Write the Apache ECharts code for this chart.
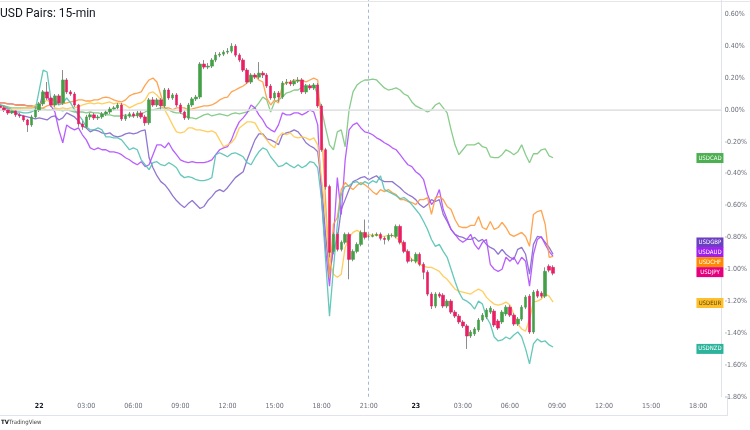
<!DOCTYPE html>
<html>
<head>
<meta charset="utf-8">
<script src="https://cdn.jsdelivr.net/npm/echarts@6/dist/echarts.min.js"></script>
<style>
  html, body { margin: 0; padding: 0; background: #ffffff; }
  #chart { width: 750px; height: 430px; }
</style>
</head>
<body>
<div id="chart"></div>
<script>
// ---------- time slots (15-min bars) ----------
const startDay = 21;            // first bar: day 21, 21:30
const startMinute = 21 * 60 + 30;
const stepMinutes = 15;
const slotCount = 185;          // up to 23 19:30

// ---------- % change series (15-min closes) ----------
const usdnzd = [0.031,0.025,0.013,0,-0.013,-0.013,-0.019,-0.019,-0.013,0,
0.125,0.25,0.238,0.063,0.063,0.031,0.044,0.075,0.044,0,
-0.031,-0.063,-0.106,-0.125,-0.125,-0.113,-0.125,-0.169,-0.169,-0.175,
-0.175,-0.188,-0.219,-0.25,-0.238,-0.25,-0.313,-0.344,-0.375,-0.331,
-0.325,-0.344,-0.35,-0.331,-0.344,-0.363,-0.406,-0.425,-0.419,-0.425,
-0.438,-0.444,-0.444,-0.438,-0.425,-0.281,-0.269,-0.281,-0.294,-0.275,
-0.269,-0.281,-0.294,-0.331,-0.344,-0.3,-0.263,-0.238,-0.25,-0.294,
-0.325,-0.356,-0.35,-0.331,-0.35,-0.363,-0.344,-0.363,-0.35,-0.325,
-0.331,-0.363,-0.563,-0.938,-1.294,-1.0,-0.719,-0.531,-0.481,-0.475,
-0.456,-0.45,-0.469,-0.45,-0.463,-0.444,-0.456,-0.413,-0.5,-0.513,
-0.525,-0.538,-0.556,-0.55,-0.569,-0.594,-0.625,-0.656,-0.7,-0.75,
-0.813,-0.856,-0.844,-0.888,-0.925,-1.0,-1.075,-1.144,-1.188,-1.2,
-1.219,-1.25,-1.2,-1.219,-1.3,-1.344,-1.425,-1.45,-1.444,-1.425,
-1.438,-1.413,-1.394,-1.425,-1.5,-1.594,-1.469,-1.438,-1.456,-1.45,
-1.475,-1.488];

const usdgbp = [0.031,0.019,0.006,-0.006,-0.019,-0.031,-0.038,-0.044,-0.05,-0.056,
-0.05,-0.056,-0.063,-0.044,-0.038,-0.063,-0.05,-0.019,-0.031,-0.044,
-0.069,-0.1,-0.113,-0.138,-0.125,-0.131,-0.144,-0.15,-0.144,-0.163,
-0.169,-0.163,-0.15,-0.144,-0.15,-0.144,-0.131,-0.125,-0.3,-0.363,
-0.413,-0.45,-0.469,-0.5,-0.538,-0.569,-0.594,-0.613,-0.588,-0.569,
-0.594,-0.619,-0.606,-0.569,-0.544,-0.513,-0.5,-0.513,-0.488,-0.456,
-0.425,-0.406,-0.388,-0.313,-0.25,-0.188,-0.15,-0.15,-0.181,-0.188,
-0.2,-0.219,-0.156,-0.144,-0.138,-0.125,-0.138,-0.169,-0.206,-0.225,
-0.238,-0.263,-0.469,-0.781,-1.031,-0.875,-0.813,-0.625,-0.563,-0.5,
-0.45,-0.438,-0.425,-0.419,-0.438,-0.425,-0.413,-0.438,-0.45,-0.45,
-0.45,-0.469,-0.488,-0.513,-0.531,-0.544,-0.563,-0.594,-0.613,-0.594,
-0.563,-0.575,-0.563,-0.656,-0.7,-0.75,-0.781,-0.794,-0.8,-0.813,
-0.813,-0.8,-0.825,-0.813,-0.844,-0.863,-0.875,-0.906,-0.875,-0.906,
-0.925,-0.938,-0.875,-0.863,-0.906,-1.031,-0.844,-0.794,-0.8,-0.831,
-0.863,-0.906];

const usdaud = [0.044,0.044,0.038,0.038,0.031,0.031,0.031,0.025,0.025,0.019,
0.013,0.113,0.094,0.025,-0.013,-0.125,-0.206,-0.094,-0.113,-0.125,
-0.113,-0.156,-0.188,-0.238,-0.25,-0.238,-0.25,-0.25,-0.263,-0.263,
-0.269,-0.281,-0.3,-0.313,-0.331,-0.344,-0.325,-0.356,-0.344,-0.281,
-0.219,-0.219,-0.238,-0.206,-0.25,-0.281,-0.313,-0.325,-0.331,-0.325,
-0.331,-0.331,-0.331,-0.325,-0.313,-0.281,-0.25,-0.238,-0.231,-0.188,
-0.125,-0.075,-0.05,-0.019,0.031,0.013,-0.031,-0.063,-0.106,-0.125,
-0.138,-0.094,-0.019,-0.031,-0.031,-0.019,-0.019,-0.031,-0.019,0,
-0.013,-0.094,-0.563,-0.875,-1.106,-0.813,-0.425,-0.656,-0.313,-0.125,
-0.094,-0.081,-0.113,-0.138,-0.144,-0.156,-0.175,-0.188,-0.206,-0.219,
-0.238,-0.25,-0.281,-0.313,-0.344,-0.356,-0.388,-0.406,-0.438,-0.531,
-0.594,-0.563,-0.5,-0.625,-0.688,-0.75,-0.781,-0.813,-0.831,-0.813,
-0.781,-0.844,-0.875,-0.831,-0.813,-0.969,-1.0,-1.013,-1.0,-0.925,
-0.95,-0.925,-0.969,-0.925,-0.95,-1.106,-0.906,-0.813,-0.794,-0.844,
-0.888,-0.919];

const usdchf = [0.044,0.044,0.038,0.038,0.031,0.031,0.031,0.025,0.025,0.019,
0.013,0.013,0.025,0.031,0.038,0.038,0.038,0.044,0.05,0.056,
0.063,0.063,0.056,0.056,0.063,0.063,0.075,0.081,0.075,0.063,
0.056,0.05,0.063,0.088,0.1,0.106,0.113,0.156,0.188,0.2,
0.175,0.094,0.013,0.013,0,0.013,0.013,0.013,0,0.006,
0.013,0.019,0.025,0.025,0.031,0.044,0.063,0.075,0.081,0.113,
0.125,0.138,0.15,0.169,0.2,0.219,0.188,0.175,0.075,0.031,
0.063,0.044,0.156,0.169,0.175,0.188,0.181,0.188,0.175,0.188,
0.2,0.188,-0.125,-0.563,-1.05,-0.719,-0.675,-0.5,-0.456,-0.481,
-0.5,-0.475,-0.456,-0.469,-0.488,-0.513,-0.531,-0.5,-0.513,-0.5,
-0.519,-0.531,-0.563,-0.563,-0.575,-0.581,-0.594,-0.563,-0.563,-0.55,
-0.656,-0.55,-0.544,-0.563,-0.606,-0.625,-0.688,-0.731,-0.738,-0.738,
-0.725,-0.725,-0.669,-0.738,-0.75,-0.7,-0.75,-0.738,-0.706,-0.738,
-0.781,-0.794,-0.781,-0.769,-0.794,-0.856,-0.656,-0.638,-0.631,-0.719,
-0.925,-0.919];

const usdeur = [0.025,0.019,0.013,0.006,0.006,0.006,0.013,0.013,0.013,0.031,
0.038,0.044,0.063,0.044,0.013,0.006,0.013,0.006,0.013,0.013,
0.019,0.031,0.038,0.044,0.038,0.044,0.038,0.044,0.05,0.038,
0.044,0.038,0.031,0.013,0.025,0.038,0.044,0.063,0.106,0.113,
0.094,0.063,0,-0.044,-0.094,-0.138,-0.144,-0.138,-0.113,-0.113,
-0.125,-0.125,-0.131,-0.138,-0.131,-0.144,-0.188,-0.231,-0.219,-0.206,
-0.175,-0.113,-0.094,-0.075,-0.075,-0.081,-0.125,-0.156,-0.188,-0.219,
-0.238,-0.169,-0.144,-0.156,-0.144,-0.169,-0.175,-0.169,-0.175,-0.188,
-0.175,-0.219,-0.438,-0.656,-0.938,-1.031,-1.05,-1.031,-0.863,-0.8,
-0.769,-0.756,-0.769,-0.794,-0.781,-0.788,-0.781,-0.794,-0.794,-0.788,
-0.788,-0.8,-0.825,-0.863,-0.906,-0.938,-0.95,-0.969,-0.981,-0.988,
-0.988,-1.0,-1.013,-1.044,-1.063,-1.094,-1.125,-1.138,-1.144,-1.15,
-1.156,-1.138,-1.125,-1.138,-1.175,-1.2,-1.219,-1.225,-1.219,-1.206,
-1.225,-1.281,-1.344,-1.375,-1.388,-1.313,-1.206,-1.2,-1.188,-1.156,
-1.169,-1.206];

const usdcad = [0.031,0.025,0.019,0.013,0.013,0.013,0.013,0.013,0.013,0.013,
0.006,0.006,0,0,0.006,0,-0.006,0,-0.006,-0.013,
-0.013,-0.013,-0.019,-0.013,-0.019,-0.019,-0.025,-0.031,-0.031,-0.038,
-0.038,-0.038,-0.031,-0.038,-0.038,-0.031,-0.025,-0.013,0,0,
0.006,0.013,0.013,0,-0.013,-0.019,-0.019,-0.031,-0.05,-0.05,
-0.056,-0.044,-0.031,-0.025,-0.038,-0.031,-0.025,-0.031,-0.038,-0.025,
-0.019,-0.025,-0.019,-0.013,0,0.013,0.044,0.081,0.063,-0.013,
0.05,0.063,0.081,0.106,0.113,0.125,0.125,0.144,0.156,0.15,
0.156,0.094,0,-0.113,-0.219,-0.25,-0.138,-0.125,-0.231,0,
0.113,0.156,0.175,0.188,0.188,0.194,0.188,0.163,0.138,0.125,
0.131,0.138,0.125,0.1,0.088,0.05,0.025,0.013,0,-0.013,
0,0.031,0.044,0.013,-0.019,-0.125,-0.219,-0.281,-0.25,-0.219,
-0.219,-0.219,-0.206,-0.231,-0.238,-0.294,-0.3,-0.3,-0.281,-0.25,
-0.263,-0.281,-0.263,-0.219,-0.281,-0.331,-0.275,-0.275,-0.25,-0.244,
-0.288,-0.3];

// USDJPY 15-min candles: [open, close, low, high] in %
const usdjpy = [
[0.025,0.013,0,0.038],[0.013,0,-0.013,0.025],[0,-0.019,-0.031,0.006],[-0.019,-0.006,-0.025,0.006],
[-0.006,-0.031,-0.044,0],[-0.031,-0.038,-0.05,-0.019],[-0.038,-0.063,-0.075,-0.031],[-0.063,-0.094,-0.138,-0.056],
[-0.094,-0.044,-0.106,-0.031],[-0.044,0,-0.056,0.013],[0,0.038,-0.013,0.05],[0.038,0.113,0.025,0.125],
[0.113,0.075,0.063,0.175],[0.075,0.031,0.019,0.088],[0.031,0.088,0.019,0.1],[0.088,0.044,0.031,0.1],
[0.044,0.188,0.031,0.25],[0.188,0.113,0.1,0.2],[0.113,0.1,0.088,0.125],[0.1,0.031,0.019,0.113],
[0.031,-0.088,-0.106,0.038],[-0.088,-0.106,-0.125,-0.069],[-0.106,-0.044,-0.119,-0.031],[-0.044,-0.031,-0.063,-0.019],
[-0.031,-0.05,-0.063,-0.019],[-0.05,-0.044,-0.063,-0.031],[-0.044,-0.025,-0.056,-0.013],[-0.025,-0.013,-0.038,0],
[-0.013,0.006,-0.025,0.019],[0.006,0.013,-0.006,0.025],[0.013,0.031,0,0.044],[0.031,-0.056,-0.069,0.044],
[-0.056,-0.038,-0.069,-0.025],[-0.038,-0.025,-0.05,-0.013],[-0.025,-0.038,-0.05,-0.013],[-0.038,-0.019,-0.05,-0.006],
[-0.019,-0.044,-0.056,-0.006],[-0.044,-0.081,-0.1,-0.031],[-0.081,0.063,-0.094,0.075],[0.063,0.031,0.019,0.081],
[0.031,0.063,0.019,0.075],[0.063,0.025,0,0.075],[0.025,0.125,0.013,0.138],[0.125,0.075,0.063,0.138],
[0.075,0.094,0.063,0.106],[0.094,0.031,0.019,0.106],[0.031,-0.013,-0.025,0.044],[-0.013,-0.05,-0.063,0],
[-0.05,0.031,-0.063,0.044],[0.031,0.069,0.019,0.081],[0.069,0.081,0.056,0.094],[0.081,0.288,0.069,0.3],
[0.288,0.269,0.256,0.313],[0.269,0.275,0.256,0.294],[0.275,0.313,0.263,0.325],[0.313,0.344,0.3,0.363],
[0.344,0.35,0.331,0.363],[0.35,0.363,0.338,0.375],[0.363,0.369,0.35,0.388],[0.369,0.4,0.356,0.419],
[0.4,0.344,0.331,0.413],[0.344,0.313,0.3,0.356],[0.313,0.25,0.238,0.325],[0.25,0.175,0.163,0.263],
[0.175,0.219,0.163,0.231],[0.219,0.206,0.194,0.231],[0.206,0.231,0.194,0.3],[0.231,0.219,0.2,0.244],
[0.219,0.15,0.138,0.231],[0.15,0.075,0.063,0.163],[0.075,0.106,0.063,0.119],[0.106,0.081,0.05,0.119],
[0.081,0.169,0.069,0.181],[0.169,0.175,0.156,0.194],[0.175,0.163,0.15,0.188],[0.163,0.181,0.15,0.194],
[0.181,0.188,0.169,0.206],[0.188,0.113,0.1,0.2],[0.113,0.15,0.1,0.163],[0.15,0.138,0.125,0.163],
[0.138,0.156,0.125,0.169],[0.156,0.025,0.013,0.169],[0.025,-0.25,-0.263,0.038],[-0.25,-0.481,-0.5,-0.238],
[-0.481,-0.894,-0.925,-0.469],[-0.888,-0.781,-0.906,-0.769],[-0.781,-0.875,-0.888,-0.769],[-0.875,-0.831,-0.888,-0.819],
[-0.831,-0.781,-0.844,-0.769],[-0.781,-0.938,-1.063,-0.769],[-0.938,-0.888,-0.95,-0.875],[-0.888,-0.844,-0.9,-0.831],
[-0.844,-0.769,-0.856,-0.756],[-0.769,-0.8,-0.813,-0.688],[-0.794,-0.794,-0.806,-0.781],[-0.794,-0.788,-0.8,-0.775],
[-0.788,-0.781,-0.794,-0.769],[-0.781,-0.806,-0.819,-0.769],[-0.806,-0.813,-0.844,-0.794],[-0.813,-0.788,-0.825,-0.775],
[-0.788,-0.788,-0.8,-0.775],[-0.794,-0.731,-0.806,-0.719],[-0.731,-0.831,-0.844,-0.719],[-0.831,-0.888,-0.9,-0.819],
[-0.888,-0.95,-0.963,-0.875],[-0.944,-0.944,-0.956,-0.931],[-0.95,-0.906,-0.963,-0.894],[-0.906,-0.969,-0.981,-0.894],
[-0.969,-1.019,-1.063,-0.956],[-1.019,-1.156,-1.169,-1.006],[-1.156,-1.231,-1.25,-1.144],[-1.231,-1.156,-1.244,-1.144],
[-1.156,-1.169,-1.181,-1.144],[-1.163,-1.231,-1.244,-1.15],[-1.231,-1.2,-1.244,-1.188],[-1.2,-1.269,-1.281,-1.188],
[-1.269,-1.294,-1.306,-1.256],[-1.294,-1.331,-1.344,-1.281],[-1.331,-1.356,-1.369,-1.319],[-1.356,-1.419,-1.5,-1.344],
[-1.419,-1.394,-1.431,-1.381],[-1.406,-1.375,-1.419,-1.363],[-1.381,-1.319,-1.394,-1.306],[-1.319,-1.288,-1.331,-1.275],
[-1.3,-1.256,-1.313,-1.244],[-1.269,-1.244,-1.281,-1.231],[-1.263,-1.35,-1.363,-1.25],[-1.325,-1.369,-1.381,-1.313],
[-1.331,-1.269,-1.344,-1.256],[-1.281,-1.238,-1.294,-1.225],[-1.238,-1.288,-1.3,-1.225],[-1.288,-1.344,-1.356,-1.275],
[-1.344,-1.313,-1.356,-1.3],[-1.313,-1.238,-1.325,-1.225],[-1.238,-1.175,-1.25,-1.163],[-1.169,-1.394,-1.406,-1.156],
[-1.394,-1.144,-1.406,-1.131],[-1.138,-1.169,-1.181,-1.125],[-1.15,-1.169,-1.181,-1.138],[-1.169,-1.013,-1.181,-0.988],
[-0.981,-1.006,-1.019,-0.969],[-0.988,-1.025,-1.038,-0.975]
];

// ---------- end-of-series tags (value where each tag sits on the scale) ----------
const tagNames  = ['USDCAD', 'USDGBP', 'USDAUD', 'USDCHF', 'USDJPY', 'USDEUR', 'USDNZD'];
const tagValues = [-0.302, -0.832, -0.892, -0.955, -1.018, -1.212, -1.50];
const sessionBreak = '22 21:00';

// ---------- build categories ----------
function pad(n) { return (n < 10 ? '0' : '') + n; }
const categories = [];
for (let i = 0; i < slotCount; i++) {
  const t = startMinute + i * stepMinutes;
  const day = startDay + Math.floor(t / 1440);
  const m = t % 1440;
  categories.push(day + ' ' + pad(Math.floor(m / 60)) + ':' + pad(m % 60));
}

const FONT = '"Liberation Sans Narrow", "DejaVu Sans Condensed", "Roboto", sans-serif';
const TITLE_FONT = 'Roboto, "Noto Sans", sans-serif';
const tagX = 180.6;

function tag(name, value, bg, fg) {
  return {
    symbol: 'rect',
    symbolSize: [27, 10],
    silent: true,
    data: [{ coord: [tagX, value], itemStyle: { color: bg },
      label: { show: true, position: 'inside', formatter: name, color: fg || '#ffffff',
        fontSize: 6, fontFamily: FONT } }]
  };
}

function lineSeries(name, data, color, tagIdx, tagBg, tagFg) {
  return {
    name, type: 'line', data, showSymbol: false, symbol: 'none', z: 3,
    lineStyle: { color, width: 1.3, opacity: 0.9 },
    itemStyle: { color },
    animation: false,
    markPoint: tag(tagNames[tagIdx], tagValues[tagIdx], tagBg, tagFg)
  };
}

const bodies = usdjpy.map(d => [d[0], d[1], Math.min(d[0], d[1]), Math.max(d[0], d[1])]);

const chart = echarts.init(document.getElementById('chart'), null, { renderer: 'canvas' });
chart.setOption({
  animation: false,
  backgroundColor: '#ffffff',
  title: {
    text: 'USD Pairs: 15-min', left: 0, top: 8, padding: 0,
    textStyle: { fontSize: 12, fontWeight: 'normal', color: '#131722', fontFamily: TITLE_FONT }
  },
  grid: { left: 0, right: 23, top: 0, bottom: 33.3 },
  xAxis: {
    type: 'category', data: categories, boundaryGap: false,
    axisLine: { show: true, lineStyle: { color: '#e0e3eb', width: 1 } },
    axisTick: { show: false },
    splitLine: { show: false },
    axisLabel: {
      margin: 6,
      color: '#6a6d78', fontSize: 7, fontFamily: FONT,
      interval: function (idx, value) {
        const t = value.split(' ')[1];
        const h = parseInt(t.slice(0, 2), 10);
        return t.slice(3) === '00' && h % 3 === 0;
      },
      formatter: function (value) {
        const p = value.split(' ');
        return p[1] === '00:00' ? '{day|' + p[0] + '}' : p[1];
      },
      rich: { day: { fontWeight: 'bold', color: '#131722', fontSize: 7, fontFamily: FONT } }
    }
  },
  yAxis: {
    type: 'value', position: 'right', min: -1.8, max: 0.69, interval: 0.2,
    axisLine: { show: true, lineStyle: { color: '#e0e3eb', width: 1 } },
    axisTick: { show: false },
    splitLine: { show: false },
    axisLabel: {
      margin: 3, color: '#6a6d78', fontSize: 7, fontFamily: FONT, showMaxLabel: false,
      formatter: function (v) { if (Math.abs(v) < 1e-9) v = 0; return v.toFixed(2) + '%'; }
    }
  },
  series: [
    {
      type: 'line', data: [], z: 1, silent: true,
      markLine: {
        symbol: 'none', silent: true, animation: false,
        label: { show: false },
        data: [
          { yAxis: 0, lineStyle: { color: '#e3e3e3', width: 1.5, type: 'solid' } },
          { xAxis: sessionBreak, lineStyle: { color: '#9fb6dd', width: 1, type: [3, 3] } }
        ]
      }
    },
    lineSeries('USDCAD', usdcad, '#7cc680', 0, '#4caf50'),
    lineSeries('USDGBP', usdgbp, '#8467cc', 1, '#6a3fc0'),
    lineSeries('USDAUD', usdaud, '#b04dff', 2, '#a020f0'),
    lineSeries('USDCHF', usdchf, '#ff9a3c', 3, '#ff8a00'),
    lineSeries('USDEUR', usdeur, '#ffc94d', 5, '#fdbf2d', '#5a4500'),
    lineSeries('USDNZD', usdnzd, '#53c2b3', 6, '#2bb39b'),
    {
      name: 'USDJPY-wick', type: 'candlestick', data: usdjpy, barWidth: 1, z: 4,
      itemStyle: { color: '#8c8c8c', color0: '#8c8c8c', borderColor: '#8c8c8c', borderColor0: '#8c8c8c', borderWidth: 1 }
    },
    {
      name: 'USDJPY', type: 'candlestick', data: bodies, barWidth: 3, z: 5,
      itemStyle: { color: '#43a047', color0: '#e91e63', borderColor: '#43a047', borderColor0: '#e91e63', borderWidth: 0.6 },
      markPoint: tag(tagNames[4], tagValues[4], '#e6007e')
    }
  ],
  graphic: [
    { type: 'line', shape: { x1: 0, y1: 1.5, x2: 750, y2: 1.5 }, style: { stroke: '#e6e6e6', lineWidth: 1 }, silent: true },
    { type: 'line', shape: { x1: 0, y1: 415.5, x2: 727, y2: 415.5 }, style: { stroke: '#e0e3eb', lineWidth: 1 }, silent: true },
    { type: 'line', shape: { x1: 727.5, y1: 396, x2: 727.5, y2: 416 }, style: { stroke: '#e0e3eb', lineWidth: 1 }, silent: true },
    { type: 'text', left: 1, top: 419, style: { text: 'TV', font: 'bold 6px ' + FONT, fill: '#131722' }, silent: true },
    { type: 'text', left: 9, top: 419, style: { text: 'TradingView', font: '6px ' + FONT, fill: '#444' }, silent: true }
  ]
});
</script>
</body>
</html>
